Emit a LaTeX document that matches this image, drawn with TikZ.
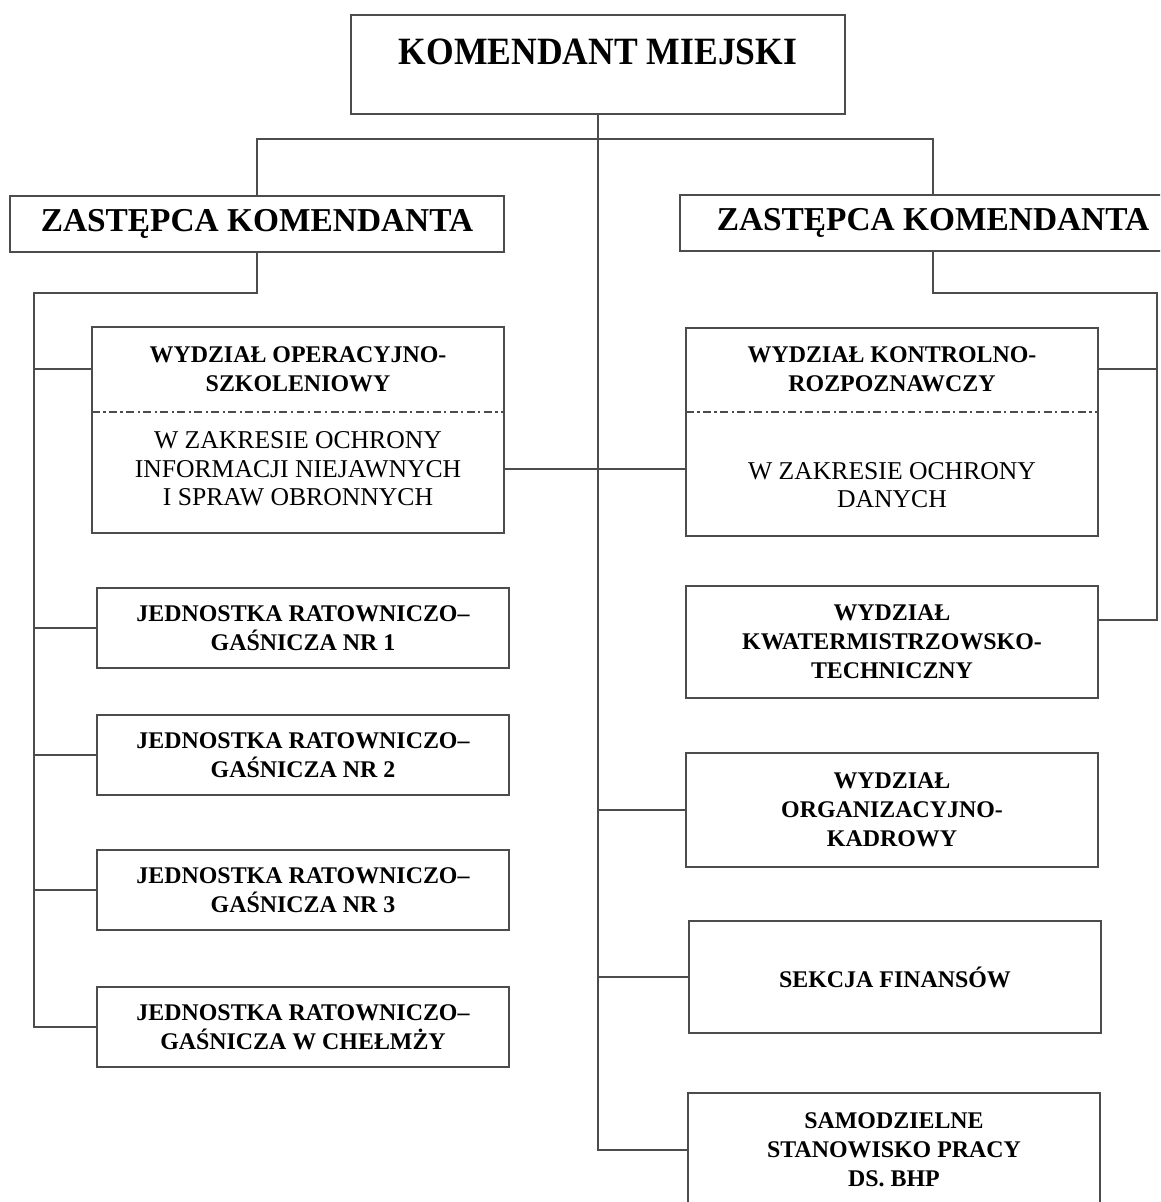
\documentclass[tikz,border=0pt]{standalone}
\usepackage{fontspec}
\setmainfont{Liberation Serif}
\newfontfamily\chieffont[FakeStretch=0.92]{Liberation Serif}
\definecolor{rule}{gray}{0.3}
\newcommand\unitfont{\fontsize{13.6pt}{16.5pt}\selectfont\bfseries}
\newcommand\notefont{\fontsize{14.6pt}{16.2pt}\selectfont}
\tikzset{
  unit/.style={draw=rule,line width=1.1pt,inner sep=0pt,minimum width=8.24cm,align=center,font=\unitfont},
  unithead/.style={inner sep=0pt,align=center,font=\unitfont},
  unitnote/.style={inner sep=0pt,align=center,font=\notefont},
  link/.style={draw=rule,line width=1.1pt},
  divide/.style={draw=black!70,line width=1pt,dash pattern=on 4.5pt off 2pt on 1.2pt off 2pt},
}
\begin{document}
\begin{tikzpicture}[x=0.02cm,y=-0.02cm]
        \useasboundingbox (0,0) rectangle (1160,1202);
        \clip (0,0) rectangle (1160,1202);
        \node[unit,minimum width=9.88cm,text height=28pt,text depth=28.3pt,font=\chieffont\fontsize{22pt}{26pt}\selectfont\bfseries] (km) at (598,64.5) {KOMENDANT MIEJSKI};
        \node[unit,minimum width=9.88cm,minimum height=1.12cm,font=\fontsize{19pt}{22pt}\selectfont\bfseries] (lz) at (257,224) {ZASTĘPCA KOMENDANTA};
        \node[unit,minimum width=10.12cm,minimum height=1.12cm,font=\fontsize{19pt}{22pt}\selectfont\bfseries] (rz) at (933,223) {ZASTĘPCA KOMENDANTA};
        \node[unit,minimum height=4.12cm] (ops) at (298,430) {};
        \node[unithead] (opsT) at (298,369) {WYDZIAŁ OPERACYJNO-\\SZKOLENIOWY};
        \node[unitnote] (opsB) at (298,469) {W ZAKRESIE OCHRONY\\INFORMACJI NIEJAWNYCH\\I SPRAW OBRONNYCH};
        \node[unit,minimum height=4.16cm] (kon) at (892,432) {};
        \node[unithead] (konT) at (892,369) {WYDZIAŁ KONTROLNO-\\ROZPOZNAWCZY};
        \node[unitnote] (konB) at (892,485) {W ZAKRESIE OCHRONY\\DANYCH};
        \coordinate (opsD) at (92,412);
        \coordinate (konD) at (686,412);
        \draw[divide] (opsD) to (opsD -| ops.east);
        \draw[divide] (konD) to (konD -| kon.east);
        \node[unit,minimum height=1.6cm] (jrg1) at (303,628) {JEDNOSTKA RATOWNICZO–\\GAŚNICZA NR 1};
        \node[unit,minimum height=1.6cm] (jrg2) at (303,755) {JEDNOSTKA RATOWNICZO–\\GAŚNICZA NR 2};
        \node[unit,minimum height=1.6cm] (jrg3) at (303,890) {JEDNOSTKA RATOWNICZO–\\GAŚNICZA NR 3};
        \node[unit,minimum height=1.6cm] (jrgC) at (303,1027) {JEDNOSTKA RATOWNICZO–\\GAŚNICZA W CHEŁMŻY};
        \node[unit,minimum height=2.24cm] (kwa) at (892,642) {WYDZIAŁ\\KWATERMISTRZOWSKO-\\TECHNICZNY};
        \node[unit,minimum height=2.28cm] (org) at (892,810) {WYDZIAŁ\\ORGANIZACYJNO-\\KADROWY};
        \node[unit,minimum height=2.24cm] (sek) at (895,977) {SEKCJA FINANSÓW};
        \node[unit,minimum height=2.28cm] (bhp) at (894,1150) {SAMODZIELNE\\STANOWISKO PRACY\\DS. BHP};
        \coordinate (bar) at (598,139);
        \coordinate (lrail) at (34,293);
        \coordinate (rrail) at (1157,293);
        \draw[link] (km.south) |- (bhp.west);
        \draw[link] (lz.north) |- (bar) -| (rz.north);
        \draw[link] (lz.south) |- (lrail) |- (jrgC.west);
        \draw[link] (rz.south) |- (rrail) |- ([yshift=0.44cm]kwa.east);
        \draw[link] (lrail |- opsT) to (opsT -| ops.west);
        \draw[link] (lrail |- jrg1.west) to (jrg1.west);
        \draw[link] (lrail |- jrg2.west) to (jrg2.west);
        \draw[link] (lrail |- jrg3.west) to (jrg3.west);
        \draw[link] (rrail |- konT) to (konT -| kon.east);
        \draw[link] (opsB -| ops.east) to (opsB -| kon.west);
        \draw[link] (km.south |- org.west) to (org.west);
        \draw[link] (km.south |- sek.west) to (sek.west);
\end{tikzpicture}
\end{document}
